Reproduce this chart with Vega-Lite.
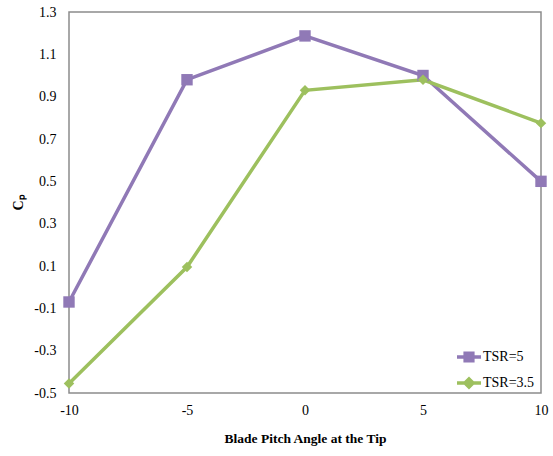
{
  "$schema": "https://vega.github.io/schema/vega-lite/v6.json",
  "width": 472,
  "height": 381,
  "autosize": {"type": "none"},
  "padding": {"left": 69, "top": 12, "right": 12, "bottom": 63},
  "background": "white",
  "config": {
    "view": {"stroke": "#8c8c8c", "strokeWidth": 1.5},
    "font": "Liberation Serif"
  },
  "data": {
    "values": [
      {"series": "TSR=5", "angle": -10, "cp": -0.07},
      {"series": "TSR=5", "angle": -5, "cp": 0.98},
      {"series": "TSR=5", "angle": 0, "cp": 1.187},
      {"series": "TSR=5", "angle": 5, "cp": 1.0},
      {"series": "TSR=5", "angle": 10, "cp": 0.5},
      {"series": "TSR=3.5", "angle": -10, "cp": -0.455},
      {"series": "TSR=3.5", "angle": -5, "cp": 0.095},
      {"series": "TSR=3.5", "angle": 0, "cp": 0.93},
      {"series": "TSR=3.5", "angle": 5, "cp": 0.98},
      {"series": "TSR=3.5", "angle": 10, "cp": 0.775}
    ]
  },
  "encoding": {
    "x": {
      "field": "angle",
      "type": "quantitative",
      "scale": {"domain": [-10, 10], "nice": false, "zero": false},
      "axis": {
        "title": "Blade Pitch Angle at the Tip",
        "values": [-10, -5, 0, 5, 10],
        "labelExpr": "replace(datum.label, '−', '-')",
        "labelFlush": false,
        "grid": false,
        "domain": false,
        "ticks": false,
        "labelFont": "Liberation Serif",
        "labelFontSize": 14,
        "labelColor": "#000",
        "labelPadding": 10,
        "titleFont": "Liberation Serif",
        "titleFontSize": 13.5,
        "titleFontWeight": "bold",
        "titleColor": "#000",
        "titlePadding": 14
      }
    },
    "y": {
      "field": "cp",
      "type": "quantitative",
      "scale": {"domain": [-0.5, 1.3], "nice": false, "zero": false},
      "axis": {
        "title": "Cₚ",
        "values": [-0.5, -0.3, -0.1, 0.1, 0.3, 0.5, 0.7, 0.9, 1.1, 1.3],
        "format": ".1f",
        "labelExpr": "replace(datum.label, '−', '-')",
        "labelFlush": false,
        "grid": false,
        "domain": false,
        "ticks": false,
        "labelFont": "Liberation Serif",
        "labelFontSize": 14,
        "labelColor": "#000",
        "labelPadding": 13,
        "titleFont": "Liberation Serif",
        "titleFontSize": 14,
        "titleFontWeight": "bold",
        "titleColor": "#000",
        "titleX": -51,
        "titleY": 190,
        "titleAngle": 270,
        "titleAlign": "center",
        "titleBaseline": "middle"
      }
    },
    "color": {
      "field": "series",
      "type": "nominal",
      "scale": {"domain": ["TSR=5", "TSR=3.5"], "range": ["#9079b6", "#9dc05e"]},
      "legend": {
        "title": null,
        "orient": "none",
        "legendX": 386,
        "legendY": 331,
        "padding": 0,
        "symbolSize": 576,
        "symbolStrokeWidth": 3.5,
        "rowPadding": 1,
        "labelOffset": 0,
        "labelFont": "Liberation Serif",
        "labelFontSize": 14,
        "labelColor": "#000",
        "encode": {
          "symbols": {
            "update": {
              "shape": {"signal": "datum.value === 'TSR=5' ? 'M-1,0H1M-0.32,-0.32H0.32V0.32H-0.32Z' : 'M-1,0H1M0,-0.34L0.34,0L0,0.34L-0.34,0Z'"},
              "size": {"value": 576},
              "fill": {"scale": "color", "field": "value"},
              "stroke": {"scale": "color", "field": "value"},
              "strokeWidth": {"value": 3.5},
              "opacity": {"value": 1}
            }
          }
        }
      }
    }
  },
  "layer": [
    {
      "mark": {"type": "line", "strokeWidth": 3.5},
      "encoding": {"detail": {"field": "series"}}
    },
    {
      "transform": [{"filter": "datum.series === 'TSR=5'"}],
      "mark": {"type": "point", "filled": true, "opacity": 1, "shape": "square", "size": 130}
    },
    {
      "transform": [{"filter": "datum.series === 'TSR=3.5'"}],
      "mark": {"type": "point", "filled": true, "opacity": 1, "shape": "diamond", "size": 110}
    }
  ]
}
